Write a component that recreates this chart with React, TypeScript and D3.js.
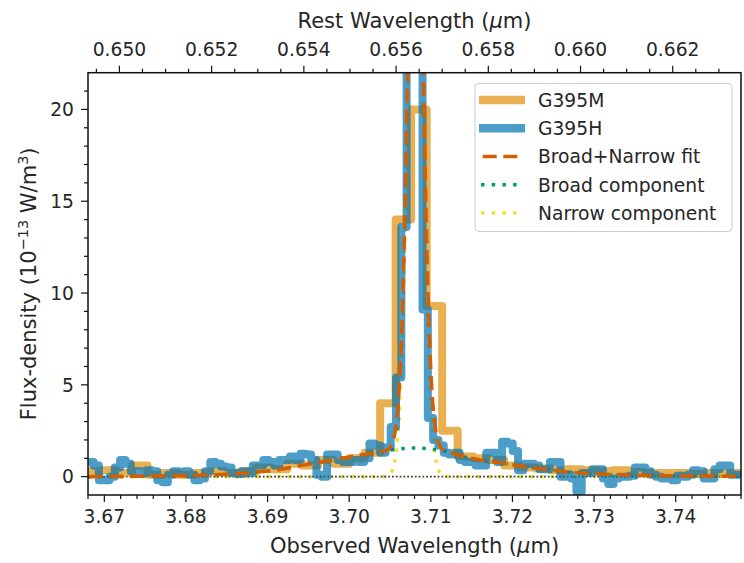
import React from 'react';
import * as d3 from 'd3';

// ---------- data ----------
const ONE_PLUS_Z = 5.649;
const X_DOMAIN: [number, number] = [3.668, 3.748];
const Y_DOMAIN: [number, number] = [-1, 22];
const X_TICKS = [3.67, 3.68, 3.69, 3.7, 3.71, 3.72, 3.73, 3.74];
const X_TICK_LABELS = ['3.67', '3.68', '3.69', '3.70', '3.71', '3.72', '3.73', '3.74'];
const REST_TICKS = [0.65, 0.652, 0.654, 0.656, 0.658, 0.66, 0.662];
const REST_TICK_LABELS = ['0.650', '0.652', '0.654', '0.656', '0.658', '0.660', '0.662'];
const Y_TICKS = [0, 5, 10, 15, 20];

// G395M spectrum (pixel grid start + step, flux values)
const G395M_START = 3.66674;
const G395M_STEP = 0.0019;
const G395M_FLUX = [
  0.2, 0.3, 0.35, 0.2, 0.6, 0.1, 0.2, 0.1, 0.2, 0.3,
  0.2, 0.3, 0.5, 0.4, 0.7, 0.6, 0.9, 0.7, 1.0, 1.3,
  4.0, 14.0, 20.0, 9.3, 2.5, 1.1, 1.0, 0.9, 0.6, 0.5,
  0.45, 0.35, 0.4, 0.35, 0.3, 0.35, 0.25, 0.2, 0.2, 0.2,
  0.15, 0.2, 0.2, 0.2,
];

// G395H spectrum
const G395H_START = 3.66771;
const G395H_STEP = 0.00065;
const G395H_FLUX = [
  0.8, 0.8, 0.6, -0.2, -0.2, 0.0, 0.5, 0.9, 0.7, 0.3,
  0.3, 0.2, 0.35, 0.3, -0.2, -0.3, 0.1, 0.3, 0.25, 0.3,
  0.1, -0.2, -0.1, 0.3, 0.8, 0.7, 0.55, 0.5, 0.2, 0.15,
  0.3, 0.2, 0.6, 0.6, 0.9, 0.8, 0.6, 0.9, 0.9, 1.1,
  0.9, 1.25, 1.2, 0.9, 0.1, 0.0, 1.2, 1.2, 0.9, 0.8,
  0.8, 0.9, 0.8, 1.0, 1.8, 1.7, 1.3, 1.6, 2.7, 5.4,
  13.6, 35, 45, 30, 9.1, 3.2, 2.0, 1.7, 1.3, 1.2,
  1.3, 0.9, 0.8, 0.8, 0.6, 0.6, 1.3, 1.3, 0.8, 1.9,
  1.8, 1.4, 0.35, 0.7, 0.7, 0.6, 0.4, 0.4, 0.8, 0.8,
  0.0, 0.1, -0.1, -0.8, 0.2, 0.2, 0.4, 0.4, -0.1, -0.4,
  -0.1, 0.0, 0.0, 0.05, 0.5, 0.5, 0.3, 0.1, 0.0, -0.1,
  -0.1, -0.2, 0.05, 0.0, 0.1, 0.35, 0.3, -0.1, -0.1, 0.4,
  0.6, 0.6, 0.1, 0.1, 0.1,
];

// Broad+Narrow fit
const FIT_WAVE = [
  3.66804, 3.67564, 3.68176, 3.68789, 3.69157, 3.69402, 3.69647, 3.69892, 3.70137, 3.70407,
  3.70469, 3.70518, 3.70567, 3.70616, 3.70665, 3.70714, 3.70763, 3.70812, 3.70861, 3.7091,
  3.70959, 3.71008, 3.71057, 3.71106, 3.71155, 3.71216, 3.71363, 3.71608, 3.71853, 3.72098,
  3.72343, 3.72588, 3.72833, 3.73078, 3.73691, 3.74304, 3.74806,
];
const FIT_FLUX = [
  0.0, 0.03, 0.08, 0.22, 0.4, 0.6, 0.78, 0.98, 1.18, 1.38,
  1.45, 1.7, 2.6, 5.1, 11.0, 21.5, 32.5, 37.5, 32.5, 21.5,
  11.0, 5.1, 2.6, 1.7, 1.45, 1.35, 1.15, 0.9, 0.75, 0.58,
  0.43, 0.3, 0.2, 0.14, 0.06, 0.03, 0.02,
];

// Broad component
const BROAD_WAVE = [
  3.66804, 3.67564, 3.68176, 3.68789, 3.69157, 3.69402, 3.69647, 3.69892, 3.70137, 3.70407,
  3.70591, 3.70812, 3.7102, 3.71216, 3.71363, 3.71608, 3.71853, 3.72098, 3.72343, 3.72588,
  3.72833, 3.73078, 3.73691, 3.74304, 3.74806,
];
const BROAD_FLUX = [
  0.0, 0.03, 0.08, 0.22, 0.4, 0.6, 0.78, 0.98, 1.18, 1.38,
  1.5, 1.56, 1.5, 1.35, 1.15, 0.9, 0.75, 0.58, 0.43, 0.3,
  0.2, 0.14, 0.06, 0.03, 0.02,
];

// Narrow component
const NARROW_WAVE = [
  3.66804, 3.70407, 3.70469, 3.70518, 3.70567, 3.70616, 3.70665, 3.70714, 3.70763, 3.70812,
  3.70861, 3.7091, 3.70959, 3.71008, 3.71057, 3.71106, 3.71155, 3.71216, 3.74806,
];
const NARROW_FLUX = [
  0, 0, 0.05, 0.25, 1.1, 3.6, 9.5, 20, 31, 36,
  31, 20, 9.5, 3.6, 1.1, 0.25, 0.05, 0, 0,
];

const LEGEND_LABELS = ['G395M', 'G395H', 'Broad+Narrow fit', 'Broad component', 'Narrow component'];

// ---------- styles ----------
const W = 744;
const H = 563;
const M = { left: 88, right: 741, top: 72.7, bottom: 495 };
const FONT = "'DejaVu Sans', sans-serif";
const TXT = '#262626';
const C_M = '#de8f05';
const C_H = '#0173b2';
const C_FIT = '#d55e00';
const C_BROAD = '#029e73';
const C_NARROW = '#ece133';

export default function App() {
  const x = d3.scaleLinear().domain(X_DOMAIN).range([M.left, M.right]);
  const xRest = d3.scaleLinear().domain([X_DOMAIN[0] / ONE_PLUS_Z, X_DOMAIN[1] / ONE_PLUS_Z]).range([M.left, M.right]);
  const y = d3.scaleLinear().domain(Y_DOMAIN).range([M.bottom, M.top]);

  const stepLine = d3.line<[number, number]>().x(d => x(d[0])).y(d => y(d[1])).curve(d3.curveStep);
  const smoothLine = d3.line<[number, number]>().x(d => x(d[0])).y(d => y(d[1])).curve(d3.curveMonotoneX);

  const mData: [number, number][] = G395M_FLUX.map((v, i) => [G395M_START + i * G395M_STEP, v]);
  const hData: [number, number][] = G395H_FLUX.map((v, i) => [G395H_START + i * G395H_STEP, v]);
  const fitData: [number, number][] = FIT_WAVE.map((w, i) => [w, FIT_FLUX[i]]);
  const broadData: [number, number][] = BROAD_WAVE.map((w, i) => [w, BROAD_FLUX[i]]);
  const narrowData: [number, number][] = NARROW_WAVE.map((w, i) => [w, NARROW_FLUX[i]]);

  const xMinor = d3.range(0, 41).map(i => 3.668 + i * 0.002).filter(v => v >= X_DOMAIN[0] - 1e-9 && v <= X_DOMAIN[1] + 1e-9 && !X_TICKS.some(t => Math.abs(t - v) < 1e-7));
  const restLo = X_DOMAIN[0] / ONE_PLUS_Z;
  const restHi = X_DOMAIN[1] / ONE_PLUS_Z;
  const restMinor = d3.range(0, 40).map(i => 0.6495 + i * 0.0005).filter(v => v >= restLo && v <= restHi && !REST_TICKS.some(t => Math.abs(t - v) < 1e-7));
  const yMinor = d3.range(-1, 22).filter(v => v % 5 !== 0 && v > Y_DOMAIN[0]);

  const legX0 = 481;
  const legX1 = 523;
  const legRows = [100, 128.3, 156.5, 184.8, 213];

  return (
    <svg width={W} height={H} style={{ position: 'absolute', left: 0, top: 0, background: '#fff' }} fontFamily={FONT}>
      <defs>
        <clipPath id="plot">
          <rect x={M.left} y={M.top} width={M.right - M.left} height={M.bottom - M.top} />
        </clipPath>
      </defs>
      <rect x={0} y={0} width={W} height={H} fill="#fff" />

      <g clipPath="url(#plot)" fill="none">
        <path d={smoothLine(narrowData) || ''} stroke={C_NARROW} strokeWidth={3.5} strokeDasharray="3.5 7" />
        <path d={smoothLine(broadData) || ''} stroke={C_BROAD} strokeWidth={3.5} strokeDasharray="3.5 7" />
        <line x1={M.left} x2={M.right} y1={y(0)} y2={y(0)} stroke="#3a4030" strokeWidth={1.8} strokeDasharray="1.8 2" />
        <path d={stepLine(mData) || ''} stroke={C_M} strokeOpacity={0.7} strokeWidth={8} strokeLinejoin="round" />
        <path d={stepLine(hData) || ''} stroke={C_H} strokeOpacity={0.7} strokeWidth={8} strokeLinejoin="round" />
        <path d={smoothLine(fitData) || ''} stroke={C_FIT} strokeWidth={3.5} strokeDasharray="14 7" />
      </g>

      {/* frame */}
      <rect x={M.left} y={M.top} width={M.right - M.left} height={M.bottom - M.top} fill="none" stroke="#111" strokeWidth={1.5} />

      {/* ticks */}
      <g stroke="#111" strokeWidth={1.2}>
        {X_TICKS.map(t => <line key={'xb' + t} x1={x(t)} x2={x(t)} y1={M.bottom} y2={M.bottom + 7} />)}
        {xMinor.map(t => <line key={'xm' + t} x1={x(t)} x2={x(t)} y1={M.bottom} y2={M.bottom + 4} />)}
        {REST_TICKS.map(t => <line key={'rt' + t} x1={xRest(t)} x2={xRest(t)} y1={M.top} y2={M.top - 7} />)}
        {restMinor.map(t => <line key={'rm' + t} x1={xRest(t)} x2={xRest(t)} y1={M.top} y2={M.top - 4} />)}
        {Y_TICKS.map(t => <line key={'yt' + t} x1={M.left} x2={M.left - 7} y1={y(t)} y2={y(t)} />)}
        {yMinor.map(t => <line key={'ym' + t} x1={M.left} x2={M.left - 4} y1={y(t)} y2={y(t)} />)}
      </g>
      <g fill={TXT} fontSize={18.7}>
        {X_TICKS.map((t, i) => (
          <text key={'xl' + t} x={x(t)} y={523} textAnchor="middle">{X_TICK_LABELS[i]}</text>
        ))}
        {REST_TICKS.map((t, i) => (
          <text key={'rl' + t} x={xRest(t)} y={56} textAnchor="middle">{REST_TICK_LABELS[i]}</text>
        ))}
        {Y_TICKS.map(t => (
          <text key={'yl' + t} x={74} y={y(t)} dy="0.36em" textAnchor="end">{t}</text>
        ))}
      </g>

      {/* axis labels */}
      <text x={(M.left + M.right) / 2} y={553} textAnchor="middle" fontSize={21} fill={TXT}>
        Observed Wavelength (<tspan fontStyle="italic">μ</tspan>m)
      </text>
      <text x={(M.left + M.right) / 2} y={28} textAnchor="middle" fontSize={21} fill={TXT}>
        Rest Wavelength (<tspan fontStyle="italic">μ</tspan>m)
      </text>
      <text transform={`translate(36, ${(M.top + M.bottom) / 2}) rotate(-90)`} textAnchor="middle" fontSize={21} fill={TXT}>
        Flux-density (10<tspan fontSize={14.5} dy={-8}>−13</tspan><tspan dy={8}> W/m</tspan><tspan fontSize={14.5} dy={-8}>3</tspan><tspan dy={8}>)</tspan>
      </text>

      {/* legend */}
      <rect x={475} y={83.5} width={257} height={148} rx={4} ry={4} fill="#fff" fillOpacity={0.8} stroke="#cccccc" strokeWidth={1} />
      <g fill="none">
        <line x1={legX0 - 2} x2={legX1 + 2} y1={legRows[0]} y2={legRows[0]} stroke={C_M} strokeOpacity={0.7} strokeWidth={8.5} />
        <line x1={legX0 - 2} x2={legX1 + 2} y1={legRows[1]} y2={legRows[1]} stroke={C_H} strokeOpacity={0.7} strokeWidth={8.5} />
        <line x1={482.7} x2={517.5} y1={legRows[2]} y2={legRows[2]} stroke={C_FIT} strokeWidth={3.5} strokeDasharray="14 6.6" />
        <line x1={481} x2={520} y1={legRows[3]} y2={legRows[3]} stroke={C_BROAD} strokeWidth={3.5} strokeDasharray="3.5 7.2" />
        <line x1={481} x2={520} y1={legRows[4]} y2={legRows[4]} stroke={C_NARROW} strokeWidth={3.5} strokeDasharray="3.5 7.2" />
      </g>
      <g fill={TXT} fontSize={18.7}>
        {LEGEND_LABELS.map((l, i) => (
          <text key={l} x={538} y={legRows[i]} dy="0.36em">{l}</text>
        ))}
      </g>
    </svg>
  );
}
